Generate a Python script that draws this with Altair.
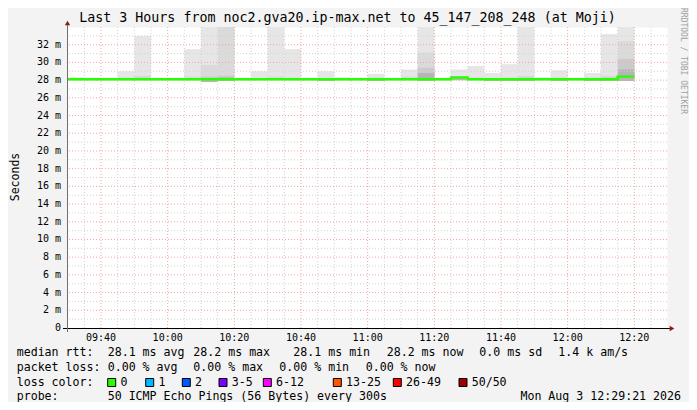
import altair as alt
import pandas as pd

FONT = "DejaVu Sans Mono"
TITLE = "Last 3 Hours from noc2.gva20.ip-max.net to 45_147_208_248 (at Moji)"

# ---- data (5-minute smokeping steps) ----
slot_start = ["09:30", "09:35", "09:40", "09:45", "09:50", "09:55",
              "10:00", "10:05", "10:10", "10:15", "10:20", "10:25",
              "10:30", "10:35", "10:40", "10:45", "10:50", "10:55",
              "11:00", "11:05", "11:10", "11:15", "11:20", "11:25",
              "11:30", "11:35", "11:40", "11:45", "11:50", "11:55",
              "12:00", "12:05", "12:10", "12:15"]
slot_end_last = "12:20"
median_ms = [28.1, 28.1, 28.1, 28.1, 28.1, 28.1,
             28.1, 28.1, 28.1, 28.1, 28.1, 28.1,
             28.1, 28.1, 28.1, 28.1, 28.1, 28.1,
             28.1, 28.1, 28.1, 28.1, 28.1, 28.3,
             28.1, 28.1, 28.1, 28.1, 28.1, 28.1,
             28.1, 28.1, 28.1, 28.4]
smoke_min = [28.0, 28.0, 28.0, 28.0, 28.0, 28.0,
             28.0, 28.0, 27.8, 27.9, 28.0, 28.0,
             28.0, 28.0, 28.0, 27.9, 28.0, 28.0,
             27.9, 28.0, 28.0, 27.9, 28.0, 28.0,
             28.0, 27.9, 27.9, 27.9, 28.0, 27.9,
             28.0, 27.9, 27.9, 27.9]
smoke_max = [28.3, 28.2, 28.2, 29.0, 33.0, 28.2,
             28.2, 31.5, 40.0, 40.0, 28.2, 29.0,
             40.0, 31.5, 28.2, 29.0, 28.3, 28.2,
             28.7, 28.2, 29.2, 40.0, 28.2, 29.2,
             29.6, 28.8, 29.8, 40.0, 28.3, 29.1,
             28.2, 28.8, 33.2, 40.0]
smoke_l2 = [28.2, 28.15, 28.15, 28.3, 28.5, 28.15,
            28.15, 28.4, 29.7, 40.0, 28.15, 28.2,
            28.4, 28.3, 28.15, 28.2, 28.2, 28.15,
            28.3, 28.15, 28.4, 31.1, 28.15, 28.4,
            28.3, 28.2, 28.3, 28.5, 28.2, 28.3,
            28.15, 28.3, 28.5, 32.4]
smoke_l3 = [28.15, 28.1, 28.1, 28.2, 28.3, 28.1,
            28.1, 28.2, 28.4, 28.5, 28.1, 28.15,
            28.2, 28.2, 28.1, 28.15, 28.15, 28.1,
            28.2, 28.1, 28.2, 29.4, 28.1, 28.3,
            28.2, 28.15, 28.2, 28.3, 28.15, 28.2,
            28.1, 28.2, 28.3, 30.4]
smoke_l4 = [28.1, 28.1, 28.1, 28.1, 28.2, 28.1,
            28.1, 28.1, 28.2, 28.3, 28.1, 28.1,
            28.1, 28.1, 28.1, 28.1, 28.1, 28.1,
            28.1, 28.1, 28.1, 28.8, 28.1, 28.2,
            28.1, 28.1, 28.1, 28.2, 28.1, 28.1,
            28.1, 28.1, 28.2, 29.2]

x_major_ticks = ["09:40", "10:00", "10:20", "10:40", "11:00", "11:20", "11:40", "12:00", "12:20"]
x_minor_ticks = ["09:30", "09:35", "09:45", "09:50", "09:55", "10:05", "10:10", "10:15",
                 "10:25", "10:30", "10:35", "10:45", "10:50", "10:55", "11:05", "11:10",
                 "11:15", "11:25", "11:30", "11:35", "11:45", "11:50", "11:55", "12:05",
                 "12:10", "12:15", "12:25"]
y_major_ticks = [0, 2, 4, 6, 8, 10, 12, 14, 16, 18, 20, 22, 24, 26, 28, 30, 32]
y_tick_labels = ["0", "2 m", "4 m", "6 m", "8 m", "10 m", "12 m", "14 m", "16 m",
                 "18 m", "20 m", "22 m", "24 m", "26 m", "28 m", "30 m", "32 m"]
y_minor_ticks = [1, 3, 5, 7, 9, 11, 13, 15, 17, 19, 21, 23, 25, 27, 29, 31, 33]

loss_labels = ["0", "1", "2", "3-5", "6-12", "13-25", "26-49", "50/50"]
loss_colors = ["#26ff00", "#00b8ff", "#0059ff", "#7e00ff", "#ff00ff", "#ff5500", "#ff0000", "#a00000"]

row1 = ["median rtt:", "28.1 ms avg", "28.2 ms max", "28.1 ms min", "28.2 ms now", "0.0 ms sd", "1.4 k am/s"]
row2 = ["packet loss:", "0.00 % avg", "0.00 % max", "0.00 % min", "0.00 % now"]
row4 = ["probe:", "50 ICMP Echo Pings (56 Bytes) every 300s"]
date_text = "Mon Aug  3 12:29:21 2026"

# ---- layout (pixels relative to plot area) ----
W, H = 600, 301
X_DOMAIN = [29.8, 209.8]   # minutes after 09:00
Y_DOMAIN = [0, 34]
row1_px = [-50.3, 40.7, 126.3, 226.3, 319.7, 412.3, 491.3]
row2_px = [-50.3, 40.7, 126.3, 212.3, 298.7]
box_px = [40.7, 78.7, 115.3, 152.0, 196.3, 266.3, 326.3, 392.0]
row4_px = [-50.3, 40.7]
ROW_Y = [326, 341, 355.5, 370]


def mins(s):
    h, m = s.split(":")
    return int(h) * 60 + int(m) - 540


xs = alt.Scale(domain=X_DOMAIN, nice=False, zero=False)
ys = alt.Scale(domain=Y_DOMAIN, nice=False, zero=False)

# smoke layers
shade_levels = [(smoke_max, "#e6e6e6"), (smoke_l2, "#dadada"), (smoke_l3, "#cbcbcb"), (smoke_l4, "#b5b5b5")]
layers = []
for vals, col in shade_levels:
    rows = []
    for i, s in enumerate(slot_start):
        if vals[i] > smoke_min[i]:
            rows.append({"t0": mins(s), "t1": mins(s) + 5, "lo": smoke_min[i], "hi": vals[i]})
    df = pd.DataFrame(rows)
    layers.append(
        alt.Chart(df).mark_rect(color=col, clip=True).encode(
            x=alt.X("t0:Q", scale=xs, axis=None),
            x2="t1:Q",
            y=alt.Y("lo:Q", scale=ys, axis=None),
            y2="hi:Q",
        )
    )

# grid
gx_minor = pd.DataFrame({"t": [mins(s) for s in x_minor_ticks]})
gx_major = pd.DataFrame({"t": [mins(s) for s in x_major_ticks]})
gy_minor = pd.DataFrame({"v": y_minor_ticks})
gy_major = pd.DataFrame({"v": y_major_ticks[1:]})
DASH = [1, 2]
GRID_GRAY = "#d2d2d2"
GRID_RED = "#f4a4a4"
layers += [
    alt.Chart(gx_minor).mark_rule(color=GRID_GRAY, strokeDash=DASH, strokeWidth=1).encode(
        x=alt.X("t:Q", scale=xs, axis=None)),
    alt.Chart(gy_minor).mark_rule(color=GRID_GRAY, strokeDash=DASH, strokeWidth=1).encode(
        y=alt.Y("v:Q", scale=ys, axis=None)),
    alt.Chart(gx_major).mark_rule(color=GRID_RED, strokeDash=DASH, strokeWidth=1).encode(
        x=alt.X("t:Q", scale=xs, axis=None)),
    alt.Chart(gy_major).mark_rule(color=GRID_RED, strokeDash=DASH, strokeWidth=1).encode(
        y=alt.Y("v:Q", scale=ys, axis=None)),
]

# median line
med_df = pd.DataFrame({
    "t": [mins(s) for s in slot_start] + [mins(slot_end_last)],
    "m": median_ms + [median_ms[-1]],
})
layers.append(
    alt.Chart(med_df).mark_line(interpolate="step-after", color="#26ff00", strokeWidth=2.4).encode(
        x=alt.X("t:Q", scale=xs, axis=None),
        y=alt.Y("m:Q", scale=ys, axis=None),
    )
)

one = pd.DataFrame({"a": [0]})
# axes lines and arrows
layers += [
    alt.Chart(one).mark_rule(color="#000000", strokeWidth=1).encode(
        x=alt.value(-4), x2=alt.value(604), y=alt.value(301.5)),
    alt.Chart(one).mark_rule(color="#707070", strokeWidth=1).encode(
        x=alt.value(0.5), y=alt.value(-3), y2=alt.value(305)),
    alt.Chart(one).mark_point(shape="triangle-up", filled=True, color="#8b1a1a", size=28, opacity=1).encode(
        x=alt.value(0.5), y=alt.value(-4)),
    alt.Chart(one).mark_point(shape="triangle-right", filled=True, color="#8b1a1a", size=28, opacity=1).encode(
        x=alt.value(605), y=alt.value(301.5)),
]

# tick labels
xl = pd.DataFrame({"t": [mins(s) for s in x_major_ticks], "label": x_major_ticks})
yl = pd.DataFrame({"v": y_major_ticks, "label": y_tick_labels})
layers += [
    alt.Chart(xl).mark_text(font=FONT, fontSize=10, color="#000", baseline="middle", align="center").encode(
        x=alt.X("t:Q", scale=xs, axis=None), y=alt.value(310.5), text="label:N"),
    alt.Chart(yl).mark_text(font=FONT, fontSize=10, color="#000", baseline="middle", align="right").encode(
        y=alt.Y("v:Q", scale=ys, axis=None), x=alt.value(-6), text="label:N"),
]


def text_layer(texts, pxs, py, align="left", size=11.6, color="#000", angle=0):
    df = pd.DataFrame({"text": texts, "px": pxs, "py": [py] * len(texts)})
    kw = dict(font=FONT, fontSize=size, color=color, align=align, baseline="middle")
    if angle:
        kw["angle"] = angle
    return alt.Chart(df).mark_text(**kw).encode(
        x=alt.X("px:Q", scale=None, axis=None),
        y=alt.Y("py:Q", scale=None, axis=None),
        text="text:N",
    )


layers += [
    text_layer([TITLE], [280.5], -9, align="center", size=13.3),
    text_layer(["Seconds"], [-51], 150, align="center", size=11.5, angle=270),
    text_layer(["RRDTOOL / TOBI OETIKER"], [615.5], -19, align="left", size=8, color="#a0a0a0", angle=90),
    text_layer(row1, row1_px, ROW_Y[0]),
    text_layer(row2, row2_px, ROW_Y[1]),
    text_layer(["loss color:"], [-50.3], ROW_Y[2]),
    text_layer(loss_labels, [b + 12.7 for b in box_px], ROW_Y[2]),
    text_layer(row4, row4_px, ROW_Y[3]),
    text_layer([date_text], [614], ROW_Y[3], align="right"),
]

box_df = pd.DataFrame({
    "px": box_px,
    "px2": [b + 8 for b in box_px],
    "py": [ROW_Y[2] - 4] * len(box_px),
    "py2": [ROW_Y[2] + 4] * len(box_px),
    "col": loss_colors,
})
layers.append(
    alt.Chart(box_df).mark_rect(stroke="#000000", strokeWidth=1).encode(
        x=alt.X("px:Q", scale=None, axis=None), x2="px2:Q",
        y=alt.Y("py:Q", scale=None, axis=None), y2="py2:Q",
        fill=alt.Fill("col:N", scale=None, legend=None),
    )
)

chart = alt.layer(*layers).resolve_scale(
    x="independent", y="independent"
).properties(
    width=W, height=H,
    autosize=alt.AutoSizeParams(type="none"),
    padding={"left": 59, "top": 19, "right": 22, "bottom": 74},
    background="#f3f3f3",
).configure_view(fill="#ffffff", stroke="transparent")

chart.save("out.html", embed_options={"renderer": "svg", "actions": False})
